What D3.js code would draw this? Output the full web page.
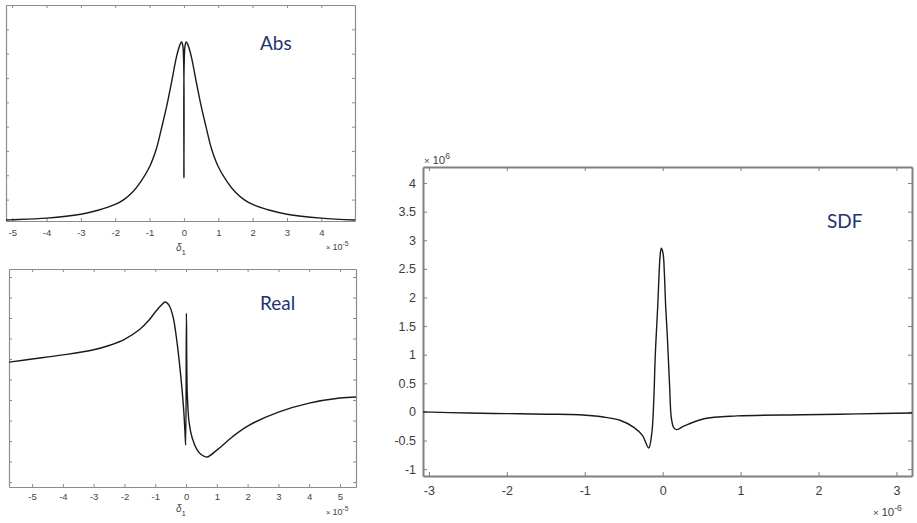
<!DOCTYPE html>
<html>
<head>
<meta charset="utf-8">
<script src="https://cdn.jsdelivr.net/npm/d3@7"></script>
<style>
  body { margin: 0; background: #fff; }
  svg { display: block; }
</style>
</head>
<body>
<svg id="chart" width="917" height="523"></svg>
<script>
// values (x in units of 1e-5 / 1e-6, y in arbitrary / 1e6 units)
var absX = [-5.18, -5, -4, -3, -2.5, -2, -1.75, -1.5, -1.25, -1, -0.8, -0.65, -0.5, -0.35, -0.22, -0.12, -0.07, -0.03, 0,
            0.03, 0.07, 0.12, 0.22, 0.35, 0.5, 0.65, 0.8, 1, 1.25, 1.5, 1.75, 2, 2.5, 3, 4, 4.98];
var absY = [0.16, 0.17, 0.24, 0.4, 0.56, 0.8, 1.0, 1.3, 1.75, 2.35, 3.1, 3.95, 4.85, 5.9, 6.85, 7.35, 7.48, 7.3, 1.9,
            7.3, 7.48, 7.35, 6.85, 5.9, 4.85, 3.95, 3.1, 2.35, 1.75, 1.3, 1.0, 0.8, 0.56, 0.4, 0.24, 0.16];

var realX = [-5.75, -5, -4, -3, -2.5, -2, -1.5, -1.2, -1, -0.8, -0.68, -0.55, -0.42, -0.3, -0.18, -0.08, -0.035, -0.012,
             0.012, 0.04, 0.1, 0.2, 0.35, 0.5, 0.68, 1, 1.5, 2, 3, 4, 5, 5.52];
var realY = [5.85, 6.0, 6.2, 6.45, 6.66, 6.96, 7.45, 7.9, 8.29, 8.63, 8.78, 8.62, 8.05, 6.9, 5.3, 3.6, 2.45, 1.8,
             8.24, 4.3, 2.9, 2.15, 1.6, 1.33, 1.22, 1.56, 2.2, 2.73, 3.41, 3.85, 4.1, 4.15];

var sdfX = [-3.075, -2.5, -2, -1.5, -1.07, -0.76, -0.54, -0.37, -0.26, -0.18, -0.14, -0.116, -0.094, -0.064, -0.046,
            -0.03, -0.017, 0.005, 0.022, 0.039, 0.056, 0.07, 0.09, 0.11, 0.14, 0.176, 0.27, 0.53, 0.955, 1.8, 2.5, 3.2];
var sdfY = [0.0, -0.02, -0.03, -0.04, -0.05, -0.09, -0.15, -0.27, -0.41, -0.63, -0.38, 0.14, 1.02, 1.83, 2.42,
            2.77, 2.86, 2.77, 2.42, 1.83, 1.42, 1.02, 0.43, -0.09, -0.27, -0.31, -0.25, -0.12, -0.07, -0.05, -0.035, -0.02];

var absTicksX = [-5, -4, -3, -2, -1, 0, 1, 2, 3, 4];
var absTicksY = [1, 2, 3, 4, 5, 6, 7, 8];
var realTicksX = [-5, -4, -3, -2, -1, 0, 1, 2, 3, 4, 5];
var realTicksY = [0, 1, 2, 3, 4, 5, 6, 7, 8, 9, 10];
var sdfTicksX = [-3, -2, -1, 0, 1, 2, 3];
var sdfTicksY = [-1, -0.5, 0, 0.5, 1, 1.5, 2, 2.5, 3, 3.5, 4];

var svg = d3.select('#chart');
var FONT = '"Liberation Sans", Arial, sans-serif';
var NOTE = '#1f3370';

function styleAxis(g, c) {
    g.attr('font-family', FONT).attr('font-size', c.fontSize);
    g.select('.domain').attr('stroke', c.axisColor).attr('stroke-width', c.axisWidth);
    g.selectAll('.tick line').attr('stroke', c.axisColor).attr('stroke-width', 1);
    g.selectAll('.tick text').attr('fill', c.textColor);
}

function drawPanel(c) {
    var x = d3.scaleLinear().domain(c.xDomain).range([c.left, c.right]);
    var y = d3.scaleLinear().domain(c.yDomain).range([c.bottom, c.top]);
    var g = svg.append('g');
    var fmt = function (d) { return String(d); };
    var none = function () { return ''; };

    g.append('g').attr('transform', 'translate(0,' + c.bottom + ')')
        .call(d3.axisBottom(x).tickValues(c.xTicks).tickSizeInner(-c.tick).tickSizeOuter(0)
            .tickPadding(c.xPad).tickFormat(fmt))
        .call(styleAxis, c);
    g.append('g').attr('transform', 'translate(0,' + c.top + ')')
        .call(d3.axisTop(x).tickValues(c.xTicks).tickSizeInner(-c.tick).tickSizeOuter(0).tickFormat(none))
        .call(styleAxis, c);
    g.append('g').attr('transform', 'translate(' + c.left + ',0)')
        .call(d3.axisLeft(y).tickValues(c.yTicks).tickSizeInner(-c.tick).tickSizeOuter(0)
            .tickPadding(c.yPad).tickFormat(c.yLabels ? fmt : none))
        .call(styleAxis, c);
    g.append('g').attr('transform', 'translate(' + c.right + ',0)')
        .call(d3.axisRight(y).tickValues(c.yTicks).tickSizeInner(-c.tick).tickSizeOuter(0).tickFormat(none))
        .call(styleAxis, c);

    var clipId = 'clip' + c.name;
    svg.append('clipPath').attr('id', clipId).append('rect')
        .attr('x', c.left).attr('y', c.top).attr('width', c.right - c.left).attr('height', c.bottom - c.top);

    var line = d3.line()
        .x(function (d, i) { return x(c.xs[i]); })
        .y(function (d, i) { return y(c.ys[i]); })
        .curve(d3.curveCatmullRom.alpha(0.5));
    g.append('path')
        .attr('clip-path', 'url(#' + clipId + ')')
        .attr('d', line(c.xs))
        .attr('fill', 'none')
        .attr('stroke', '#1a1a1a')
        .attr('stroke-width', c.lineWidth)
        .attr('stroke-linejoin', 'round');

    g.append('text')
        .attr('x', c.noteX).attr('y', c.noteY)
        .attr('font-family', 'Lato, "Open Sans", sans-serif')
        .attr('font-size', 19)
        .attr('fill', NOTE)
        .text(c.name);
    return g;
}

function exponent(x, y, base, exp, size) {
    var t = svg.append('text').attr('x', x).attr('y', y)
        .attr('font-family', FONT).attr('font-size', size).attr('fill', '#444');
    t.append('tspan').attr('font-size', size * 0.85).text('\u00d7 ');
    t.append('tspan').text(base);
    t.append('tspan').attr('dy', -size * 0.45).attr('font-size', size * 0.75).text(exp);
}

function deltaLabel(x, y) {
    var t = svg.append('text').attr('x', x).attr('y', y)
        .attr('font-family', FONT).attr('font-size', 10).attr('fill', '#444');
    t.append('tspan').attr('font-style', 'italic').text('\u03b4');
    t.append('tspan').attr('dy', 4).attr('font-size', 8).text('1');
}

drawPanel({
    name: 'Abs', left: 6, right: 355, top: 5, bottom: 221,
    xDomain: [-5.18, 4.98], yDomain: [0.12, 9.0],
    xTicks: absTicksX, yTicks: absTicksY, yLabels: false,
    xs: absX, ys: absY, tick: 3, xPad: 8, yPad: 4,
    axisColor: '#8c8c8c', axisWidth: 1.2, textColor: '#444', fontSize: 9.5, lineWidth: 1.4,
    noteX: 260, noteY: 50
});
exponent(326, 250, '10', '-5', 9);
deltaLabel(176, 251);

drawPanel({
    name: 'Real', left: 9, right: 356, top: 269, bottom: 487,
    xDomain: [-5.75, 5.52], yDomain: [-0.24, 10.39],
    xTicks: realTicksX, yTicks: realTicksY, yLabels: false,
    xs: realX, ys: realY, tick: 3, xPad: 6.5, yPad: 4,
    axisColor: '#8c8c8c', axisWidth: 1.2, textColor: '#444', fontSize: 9.5, lineWidth: 1.4,
    noteX: 260, noteY: 310
});
exponent(326, 515, '10', '-5', 9);
deltaLabel(176, 512);

drawPanel({
    name: 'SDF', left: 423, right: 912, top: 167, bottom: 476,
    xDomain: [-3.076, 3.2], yDomain: [-1.12, 4.28],
    xTicks: sdfTicksX, yTicks: sdfTicksY, yLabels: true,
    xs: sdfX, ys: sdfY, tick: 4, xPad: 10, yPad: 7,
    axisColor: '#808080', axisWidth: 2, textColor: '#3c3c3c', fontSize: 12.5, lineWidth: 1.4,
    noteX: 827, noteY: 228
});
exponent(424, 164, '10', '6', 11.5);
exponent(873, 516, '10', '-6', 11.5);
</script>
</body>
</html>
